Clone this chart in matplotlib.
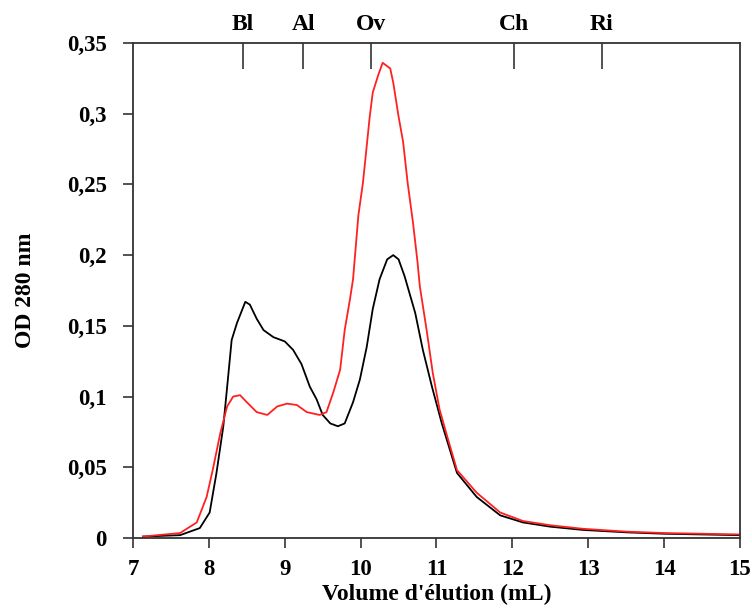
import numpy as np
import matplotlib.pyplot as plt

# elution volume (mL) and OD 280 nm, black trace
black_x = [7.13, 7.62, 7.88, 8.01, 8.1, 8.19, 8.25, 8.3, 8.37, 8.48, 8.54, 8.63,
           8.72, 8.85, 9.0, 9.11, 9.22, 9.33, 9.42, 9.5, 9.6, 9.7, 9.79, 9.9,
           9.99, 10.08, 10.16, 10.25, 10.35, 10.43, 10.5, 10.58, 10.72, 10.82,
           10.94, 11.07, 11.27, 11.53, 11.84, 12.14, 12.5, 12.93, 13.5, 14.0,
           14.5, 15.0]
black_y = [0.001, 0.002, 0.007, 0.018, 0.046, 0.079, 0.112, 0.14, 0.152, 0.167,
           0.165, 0.155, 0.147, 0.142, 0.139, 0.133, 0.123, 0.107, 0.098, 0.087,
           0.081, 0.079, 0.081, 0.096, 0.112, 0.135, 0.162, 0.183, 0.197, 0.2,
           0.197, 0.185, 0.159, 0.133, 0.107, 0.081, 0.046, 0.029, 0.016, 0.011,
           0.008, 0.0057, 0.004, 0.003, 0.0025, 0.002]

# red trace
red_x = [7.13, 7.62, 7.84, 7.97, 8.05, 8.15, 8.24, 8.32, 8.41, 8.5, 8.63, 8.77,
         8.9, 9.03, 9.16, 9.29, 9.46, 9.55, 9.64, 9.73, 9.79, 9.86, 9.9, 9.97,
         10.03, 10.08, 10.12, 10.16, 10.23, 10.29, 10.39, 10.43, 10.5, 10.56,
         10.62, 10.69, 10.75, 10.78, 10.87, 10.95, 11.04, 11.14, 11.27, 11.53,
         11.84, 12.14, 12.5, 12.93, 13.5, 14.0, 14.5, 15.0]
red_y = [0.001, 0.0035, 0.011, 0.029, 0.048, 0.074, 0.093, 0.1, 0.101, 0.096,
         0.089, 0.087, 0.093, 0.095, 0.094, 0.089, 0.087, 0.089, 0.103, 0.119,
         0.147, 0.169, 0.183, 0.228, 0.251, 0.277, 0.298, 0.315, 0.327, 0.336,
         0.332, 0.322, 0.298, 0.28, 0.251, 0.223, 0.195, 0.178, 0.147, 0.117,
         0.091, 0.072, 0.048, 0.032, 0.018, 0.012, 0.009, 0.0065, 0.0045,
         0.0035, 0.003, 0.0025]

# markers on top axis
marker_pos = [8.445, 9.245, 10.136, 12.02, 13.18]
marker_labels = ["Bl", "Al", "Ov", "Ch", "Ri"]

xticks = list(range(7, 16))
yticks = [0, 0.05, 0.1, 0.15, 0.2, 0.25, 0.3, 0.35]
ytick_labels = ["0", "0,05", "0,1", "0,15", "0,2", "0,25", "0,3", "0,35"]

plt.rcParams['font.family'] = ['Liberation Serif', 'DejaVu Serif']
plt.rcParams['font.weight'] = 'bold'

fig = plt.figure(figsize=(7.52, 6.14), dpi=100)
ax = fig.add_axes([0.1769, 0.1238, 0.8071, 0.8062])

ax.plot(black_x, black_y, color='black', lw=1.3)
ax.plot(red_x, red_y, color='#ff2020', lw=1.3)

ax.set_xlim(7, 15)
ax.set_ylim(0, 0.35)
ax.set_xticks(xticks)
ax.set_xticklabels([str(t) for t in xticks], fontsize=16.5, fontweight='bold')
ax.set_yticks(yticks)
ax.set_yticklabels(ytick_labels, fontsize=16.5, fontweight='bold')
ax.tick_params(axis='both', direction='out', length=7, width=1.2, color='#333333')
ax.tick_params(axis='x', pad=8)
ax.tick_params(axis='y', pad=12)
for s in ax.spines.values():
    s.set_linewidth(1.3)
    s.set_color('#333333')

ax.set_xlabel("Volume d'élution (mL)", fontsize=17, fontweight='bold', labelpad=3)
ax.set_ylabel("OD 280 nm", fontsize=17, fontweight='bold', labelpad=22)

top = ax.twiny()
top.set_xlim(ax.get_xlim())
top.set_xticks(marker_pos)
top.set_xticklabels(marker_labels, fontsize=17, fontweight='bold')
top.tick_params(axis='x', direction='in', length=19, width=1.2, color='#333333', pad=6)
for s in top.spines.values():
    s.set_visible(False)

fig.savefig('out.png', dpi=100)
